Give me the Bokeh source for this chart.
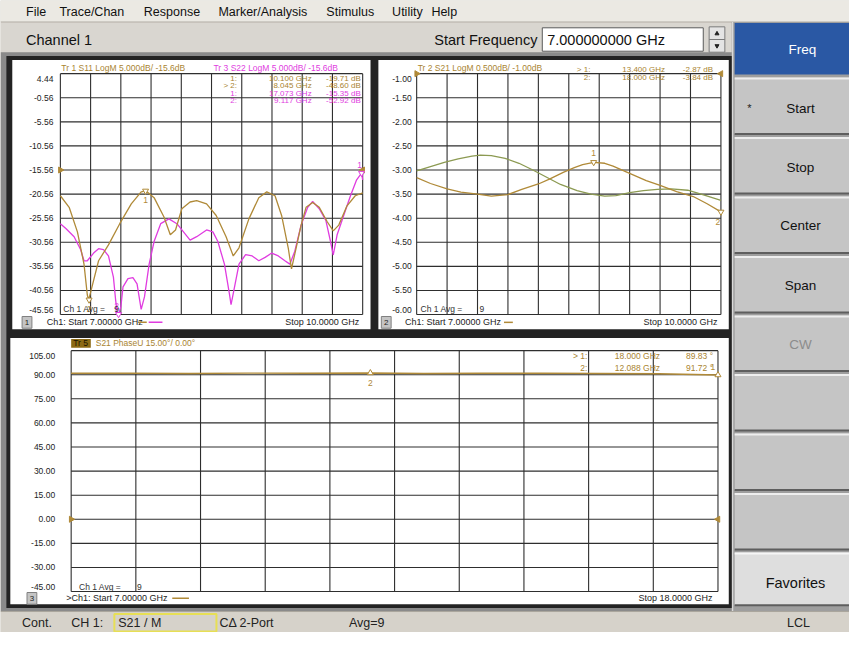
import numpy as np
from bokeh.plotting import figure
from bokeh.models import Range1d
from bokeh.core.properties import value
from bokeh.embed import file_html
from bokeh.resources import INLINE

# ---------------- chart data ----------------
freq_ticks = [7.0, 8.1, 9.2, 10.3, 11.4, 12.5, 13.6, 14.7, 15.8, 16.9, 18.0]

s11_ticks = [4.44, -0.56, -5.56, -10.56, -15.56, -20.56, -25.56, -30.56, -35.56, -40.56, -45.56]
s11_tick_labels = ["4.44", "-0.56", "-5.56", "-10.56", "-15.56", "-20.56", "-25.56",
                   "-30.56", "-35.56", "-40.56", "-45.56"]
s21_ticks = [-1.0, -1.5, -2.0, -2.5, -3.0, -3.5, -4.0, -4.5, -5.0, -5.5, -6.0]
s21_tick_labels = ["-1.00", "-1.50", "-2.00", "-2.50", "-3.00", "-3.50", "-4.00",
                   "-4.50", "-5.00", "-5.50", "-6.00"]
phase_ticks = [105, 90, 75, 60, 45, 30, 15, 0, -15, -30, -45]
phase_tick_labels = ["105.00", "90.00", "75.00", "60.00", "45.00", "30.00", "15.00",
                     "0.00", "-15.00", "-30.00", "-45.00"]

# Tr 1: S11 LogM (dB)
s11_freq = [7.00, 7.32, 7.62, 7.86, 7.98, 8.03, 8.15, 8.39, 8.75, 9.16, 9.58, 9.94, 10.12,
            10.41, 10.77, 11.00, 11.19, 11.42, 11.72, 11.96, 12.32, 12.67, 13.03, 13.29,
            13.50, 13.86, 14.22, 14.51, 14.81, 15.05, 15.29, 15.41, 15.58, 15.76, 15.94,
            16.18, 16.42, 16.71, 16.93, 17.13, 17.43, 17.73, 18.00]
s11_db = [-20.9, -23.3, -28.4, -35.1, -41.5, -42.5, -39.8, -34.4, -31.1, -26.7, -22.6,
          -20.1, -19.9, -21.3, -25.3, -29.0, -28.0, -23.6, -22.2, -21.9, -22.6, -25.0,
          -29.4, -33.4, -31.7, -25.7, -21.3, -20.1, -20.9, -25.0, -31.7, -36.1, -31.7,
          -27.0, -23.3, -22.3, -23.3, -26.3, -28.2, -27.0, -23.0, -20.9, -20.3]

# Tr 3: S22 LogM (dB)
s22_freq = [7.00, 7.20, 7.50, 7.74, 7.86, 7.98, 8.21, 8.39, 8.57, 8.75, 8.93, 9.01, 9.07,
            9.12, 9.20, 9.28, 9.46, 9.64, 9.79, 9.94, 10.06, 10.23, 10.41, 10.65, 10.95,
            11.24, 11.48, 11.72, 11.96, 12.32, 12.55, 12.73, 12.97, 13.15, 13.21, 13.29,
            13.50, 13.74, 13.98, 14.22, 14.45, 14.69, 14.93, 15.17, 15.35, 15.53, 15.76,
            16.00, 16.18, 16.42, 16.66, 16.83, 16.93, 17.07, 17.31, 17.55, 17.78, 17.96, 18.00]
s22_db = [-26.7, -27.7, -29.4, -32.1, -34.4, -34.4, -32.8, -31.9, -32.1, -33.4, -37.8,
          -42.5, -45.3, -45.5, -44.0, -39.8, -38.1, -37.9, -39.2, -44.5, -41.9, -35.1,
          -30.4, -26.7, -25.7, -26.7, -28.4, -30.1, -29.4, -28.0, -28.4, -30.4, -35.1,
          -41.2, -43.5, -41.2, -35.1, -33.1, -33.4, -34.4, -33.7, -32.8, -33.4, -34.4,
          -35.1, -32.4, -27.0, -23.3, -22.1, -23.6, -26.0, -30.4, -33.2, -29.0, -25.0,
          -21.0, -17.6, -16.2, -17.6]

# Tr 2: S21 LogM (dB), memory trace (green) and data trace (tan)
s21_mem_freq = [7.0, 7.5, 8.0, 8.5, 9.0, 9.3, 9.7, 10.2, 10.7, 11.2, 11.7, 12.2, 12.8,
                13.3, 13.8, 14.2, 14.7, 15.2, 15.7, 16.2, 16.8, 17.4, 18.0]
s21_mem_db = [-3.02, -2.93, -2.84, -2.77, -2.71, -2.69, -2.70, -2.76, -2.86, -3.00, -3.15,
              -3.30, -3.43, -3.50, -3.54, -3.53, -3.47, -3.43, -3.40, -3.39, -3.42, -3.52, -3.63]
s21_freq = [7.0, 7.5, 8.1, 8.6, 9.2, 9.7, 10.3, 10.8, 11.4, 11.8, 12.3, 12.7, 13.0, 13.4,
            13.8, 14.1, 14.7, 15.3, 15.8, 16.4, 17.0, 17.5, 18.0]
s21_db = [-3.16, -3.28, -3.39, -3.46, -3.50, -3.54, -3.51, -3.40, -3.29, -3.19, -3.05,
          -2.95, -2.89, -2.84, -2.86, -2.92, -3.07, -3.22, -3.32, -3.45, -3.55, -3.70, -3.87]

# Tr 5: S21 PhaseU (deg)
ph_freq = [7.0, 8.0, 9.0, 10.0, 11.0, 12.088, 13.0, 14.0, 15.0, 16.0, 17.0, 18.0]
ph_deg = [90.9, 91.0, 90.8, 91.0, 90.9, 91.1, 90.8, 90.9, 91.0, 90.8, 90.6, 89.83]

# markers (position on trace)
s11_mk_freq, s11_mk_db, s11_mk_id = [10.10, 8.045], [-19.9, -42.5], ["1", "2"]
s22_mk_freq, s22_mk_db, s22_mk_id = [17.96, 9.117], [-16.2, -45.5], ["1", "2"]
s21_mk_freq, s21_mk_db, s21_mk_id = [13.40, 18.0], [-2.84, -3.87], ["1", "2"]
ph_mk_freq, ph_mk_deg, ph_mk_id = [18.0, 12.088], [89.83, 91.1], ["1", "2"]

# marker read-out tables
tab1 = [["1:", "10.100 GHz", "-19.71 dB"], ["> 2:", "8.045 GHz", "-48.60 dB"],
        ["1:", "17.073 GHz", "-15.35 dB"], ["2:", "9.117 GHz", "-52.92 dB"]]
tab2 = [["> 1:", "13.400 GHz", "-2.87 dB"], ["2:", "18.000 GHz", "-3.84 dB"]]
tab3 = [["> 1:", "18.000 GHz", "89.83 \u00b0"], ["2:", "12.088 GHz", "91.72 \u00b0"]]

menu_items = ["File", "Trace/Chan", "Response", "Marker/Analysis", "Stimulus", "Utility", "Help"]
soft_keys = ["Start", "Stop", "Center", "Span", "CW"]

# ---------------- styling ----------------
FONT = value("Liberation Sans")
TAN = "#b08a38"
TANT = "#a98430"
MAG = "#e03ce0"
GRN = "#8c9a52"
GRID = "#2e2e2e"

p = figure(width=849, height=632, x_range=Range1d(0, 865), y_range=Range1d(648, 0),
           output_backend="svg", toolbar_location=None, tools="",
           x_axis_location=None, y_axis_location=None, min_border=0,
           background_fill_color="#d6d2ca", border_fill_color="#d6d2ca")
p.outline_line_color = None
p.grid.visible = False


def box(l, r, t, b, fill, line=None, lw=1):
    p.quad(left=[l], right=[r], top=[t], bottom=[b], fill_color=fill,
           line_color=line, line_width=lw)


def hline(x0, x1, y, color, w=1):
    p.segment(x0=[x0], x1=[x1], y0=[y], y1=[y], line_color=color, line_width=w)


def vline(x, y0, y1, color, w=1):
    p.segment(x0=[x], x1=[x], y0=[y0], y1=[y1], line_color=color, line_width=w)


def txt(x, y, s, size, color="#000000", align="left", baseline="middle", font=FONT, style="normal"):
    p.text(x=[x], y=[y], text=[s], text_font=font, text_font_size=f"{size}px",
           text_color=color, text_align=align, text_baseline=baseline, text_font_style=style)


# ---------------- window chrome ----------------
box(0, 865, 0, 22, "#ebe9e3")
hline(0, 865, 22, "#b5b1a9")
menu_x = [26, 60, 146, 222, 332, 399, 439]
for mx, item in zip(menu_x, menu_items):
    txt(mx, 12, item, 12.5, "#111111")

box(0, 745, 23, 53, "#d9d6d0")
txt(26, 40, "Channel 1", 14.5, "#111111")
txt(547, 40, "Start Frequency", 14.5, "#111111", align="right")
box(552, 716, 28, 52, "#ffffff", "#5a5a5a", 1)
txt(557, 40.5, "7.000000000 GHz", 14.5, "#111111")
box(722, 738, 27, 53, "#e4e4e4", "#7a7a7a", 1)
hline(722, 738, 40, "#7a7a7a")
p.scatter(x=[730, 730], y=[34, 46.5], marker=["triangle", "inverted_triangle"], size=4,
          color="#222222")

# right soft-key panel
box(745, 865, 22, 626, "#9e9e9e")
vline(746, 22, 626, "#e8e8e8", 1)
box(748, 865, 23, 76, "#2a58a4")
txt(817, 50, "Freq", 13.5, "#ffffff", align="center")
key_top = [79, 140, 201, 262, 323, 383, 444, 505]
key_bot = [137, 198, 259, 320, 380, 441, 502, 563]
for t, b in zip(key_top, key_bot):
    box(748, 865, t, b, "#c5c5c5")
    hline(748, 865, t + 1, "#eeeeee", 2)
    hline(748, 865, b, "#5e5e5e", 2)
key_text_y = [111, 171, 231, 292, 353]
for k, (ky, kt) in enumerate(zip(key_text_y, soft_keys)):
    txt(815, ky, kt, 13.5, "#8c8c8c" if kt == "CW" else "#111111", align="center")
txt(763, 110, "*", 11, "#222222", align="center")
box(748, 865, 566, 620, "#dedede")
hline(748, 865, 567, "#f6f6f6", 2)
hline(748, 865, 620, "#5e5e5e", 2)
txt(810, 597, "Favorites", 14.5, "#111111", align="center")

# status bar
box(0, 865, 626, 648, "#d6d2ca")
hline(0, 865, 626.5, "#a9a59d")
txt(22, 638, "Cont.", 12.5, "#222222")
txt(72, 638, "CH 1:", 12.5, "#222222")
box(116, 220, 629, 647, "#d6d2ca", "#e7df55", 2)
txt(120, 638, "S21 / M", 12.5, "#222222")
txt(223, 638, "C\u0394 2-Port", 12.5, "#222222")
txt(355, 638, "Avg=9", 12.5, "#222222")
txt(813, 638, "LCL", 12.5, "#222222", align="center")

# plot area frame
box(0, 745, 53, 626, "#8a8a8a")
box(6, 745, 57, 623, "#232323")
box(12, 377, 61, 337, "#ffffff")
box(385, 742, 61, 337, "#ffffff")
box(10, 742, 346, 619, "#ffffff")


# ---------------- measurement panels ----------------
def make_sub(xs, ys, xt, yt):
    return p.subplot(x_source=Range1d(*xs), y_source=Range1d(*ys),
                     x_target=Range1d(*xt), y_target=Range1d(*yt))


def draw_grid(sp, xticks, yticks, ylabels, x0, x1, label_gap):
    n, m = len(xticks), len(yticks)
    sp.segment(x0=xticks, x1=xticks, y0=[yticks[0]] * n, y1=[yticks[-1]] * n,
               line_color=GRID, line_width=1.1)
    sp.segment(x0=[x0] * m, x1=[x1] * m, y0=yticks, y1=yticks,
               line_color=GRID, line_width=1.1)
    offs = [5] + [0] * (m - 2) + [-5]
    sp.text(x=[x0] * m, y=yticks, text=ylabels, x_offset=-label_gap, y_offset=offs,
            text_align="right", text_baseline="middle", text_font=FONT,
            text_font_size="8.5px", text_color="#222222")


# panel 1 : S11 / S22
sp1 = make_sub((7, 18), (-45.56, 4.44), (61, 369), (322, 75))
draw_grid(sp1, freq_ticks, s11_ticks, s11_tick_labels, 7, 18, 7)
sp1.line(x=s22_freq, y=s22_db, line_color=MAG, line_width=1.3)
sp1.line(x=s11_freq, y=s11_db, line_color=TAN, line_width=1.3)
sp1.scatter(x=[7, 18], y=[-15.56, -15.56], marker="triangle", angle=[-np.pi / 2, np.pi / 2],
            size=6, color=TAN)
sp1.scatter(x=s11_mk_freq, y=s11_mk_db, marker="inverted_triangle", size=6,
            fill_color="#ffffff", line_color=TAN)
sp1.text(x=s11_mk_freq, y=s11_mk_db, text=s11_mk_id, y_offset=9, text_align="center",
         text_baseline="middle", text_font=FONT, text_font_size="8.5px", text_color=TAN)
sp1.scatter(x=s22_mk_freq, y=s22_mk_db, marker="inverted_triangle", size=6,
            fill_color="#ffffff", line_color=MAG)
sp1.text(x=s22_mk_freq, y=s22_mk_db, text=s22_mk_id, y_offset=-8, x_offset=-2,
         text_align="center", text_baseline="middle", text_font=FONT,
         text_font_size="8.5px", text_color=MAG)
txt(62, 69.5, "Tr 1  S11 LogM 5.000dB/  -15.6dB", 8.5, TANT)
txt(217, 69.5, "Tr 3  S22 LogM 5.000dB/  -15.6dB", 8.5, MAG)
for i, row in enumerate(tab1):
    c = TANT if i < 2 else MAG
    y = 80 + 7.6 * i
    txt(241, y, row[0], 8, c, align="right")
    txt(317, y, row[1], 8, c, align="right")
    txt(367, y, row[2], 8, c, align="right")
txt(64, 316, "Ch 1 Avg =", 8.5, "#333333")
txt(116, 316, "9", 8.5, "#333333")
box(22, 32, 324, 336, "#c4c4c4", "#808080")
txt(27, 330, "1", 8, "#222222", align="center")
txt(47, 330, "Ch1: Start  7.00000 GHz", 9, "#222222")
hline(140, 149, 330, TAN, 1.5)
hline(151, 165, 330, MAG, 1.5)
txt(368, 330, "Stop  10.0000 GHz", 9, "#222222", align="right")

# panel 2 : S21 LogM
sp2 = make_sub((7, 18), (-6.0, -1.0), (424, 734), (322, 75))
draw_grid(sp2, freq_ticks, s21_ticks, s21_tick_labels, 7, 18, 5)
sp2.line(x=s21_mem_freq, y=s21_mem_db, line_color=GRN, line_width=1.3)
sp2.line(x=s21_freq, y=s21_db, line_color=TAN, line_width=1.3)
sp2.scatter(x=[7, 18], y=[-1.0, -1.0], marker="triangle", angle=[-np.pi / 2, np.pi / 2],
            size=6, color=TAN)
sp2.scatter(x=s21_mk_freq, y=s21_mk_db, marker="inverted_triangle", size=6,
            fill_color="#ffffff", line_color=TAN)
sp2.text(x=s21_mk_freq, y=s21_mk_db, text=s21_mk_id, y_offset=[-9, 10], x_offset=[0, -3],
         text_align="center", text_baseline="middle", text_font=FONT,
         text_font_size="8.5px", text_color=TAN)
txt(425, 69.5, "Tr 2  S21 LogM 0.500dB/  -1.00dB", 8.5, TANT)
for i, row in enumerate(tab2):
    y = 71 + 7.8 * i
    txt(601, y, row[0], 8, TANT, align="right")
    txt(677, y, row[1], 8, TANT, align="right")
    txt(726, y, row[2], 8, TANT, align="right")
txt(428, 316, "Ch 1 Avg =", 8.5, "#333333")
txt(488, 316, "9", 8.5, "#333333")
box(388, 398, 324, 336, "#c4c4c4", "#808080")
txt(393, 330, "2", 8, "#222222", align="center")
txt(412, 330, "Ch1: Start  7.00000 GHz", 9, "#222222")
hline(513, 522, 330, TAN, 1.5)
txt(733, 330, "Stop  10.0000 GHz", 9, "#222222", align="right")

# panel 3 : S21 PhaseU
sp3 = make_sub((7, 18), (-45, 105), (72, 731), (606, 359))
draw_grid(sp3, freq_ticks, phase_ticks, phase_tick_labels, 7, 18, 16)
sp3.line(x=ph_freq, y=ph_deg, line_color=TAN, line_width=1.4)
sp3.scatter(x=[7, 18], y=[0, 0], marker="triangle", angle=[-np.pi / 2, np.pi / 2],
            size=6, color=TAN)
sp3.scatter(x=ph_mk_freq, y=ph_mk_deg, marker="triangle", size=6,
            fill_color="#ffffff", line_color=TAN)
sp3.text(x=ph_mk_freq, y=ph_mk_deg, text=ph_mk_id, y_offset=[-8, 10], x_offset=[-5, 0],
         text_align="center", text_baseline="middle", text_font=FONT,
         text_font_size="8.5px", text_color=TAN)
box(72, 92, 347, 356, "#8c6a14")
txt(74, 351.5, "Tr 5", 8.5, "#1a1200")
txt(97, 351.5, "S21 PhaseU 15.00\u00b0/  0.00\u00b0", 8.5, TANT)
for i, row in enumerate(tab3):
    y = 365 + 11.5 * i
    txt(598, y, row[0], 8.5, TANT, align="right")
    txt(672, y, row[1], 8.5, TANT, align="right")
    txt(726, y, row[2], 8.5, TANT, align="right")
txt(80, 601, "Ch 1 Avg =", 8.5, "#333333")
txt(139, 601, "9", 8.5, "#333333")
box(27, 37, 607, 619, "#c4c4c4", "#808080")
txt(32, 613, "3", 8, "#222222", align="center")
txt(67, 613, ">Ch1: Start  7.00000 GHz", 9, "#222222")
hline(175, 192, 613, TAN, 1.5)
txt(728, 613, "Stop  18.0000 GHz", 9, "#222222", align="right")

open("out.html", "w").write(file_html(p, INLINE))
